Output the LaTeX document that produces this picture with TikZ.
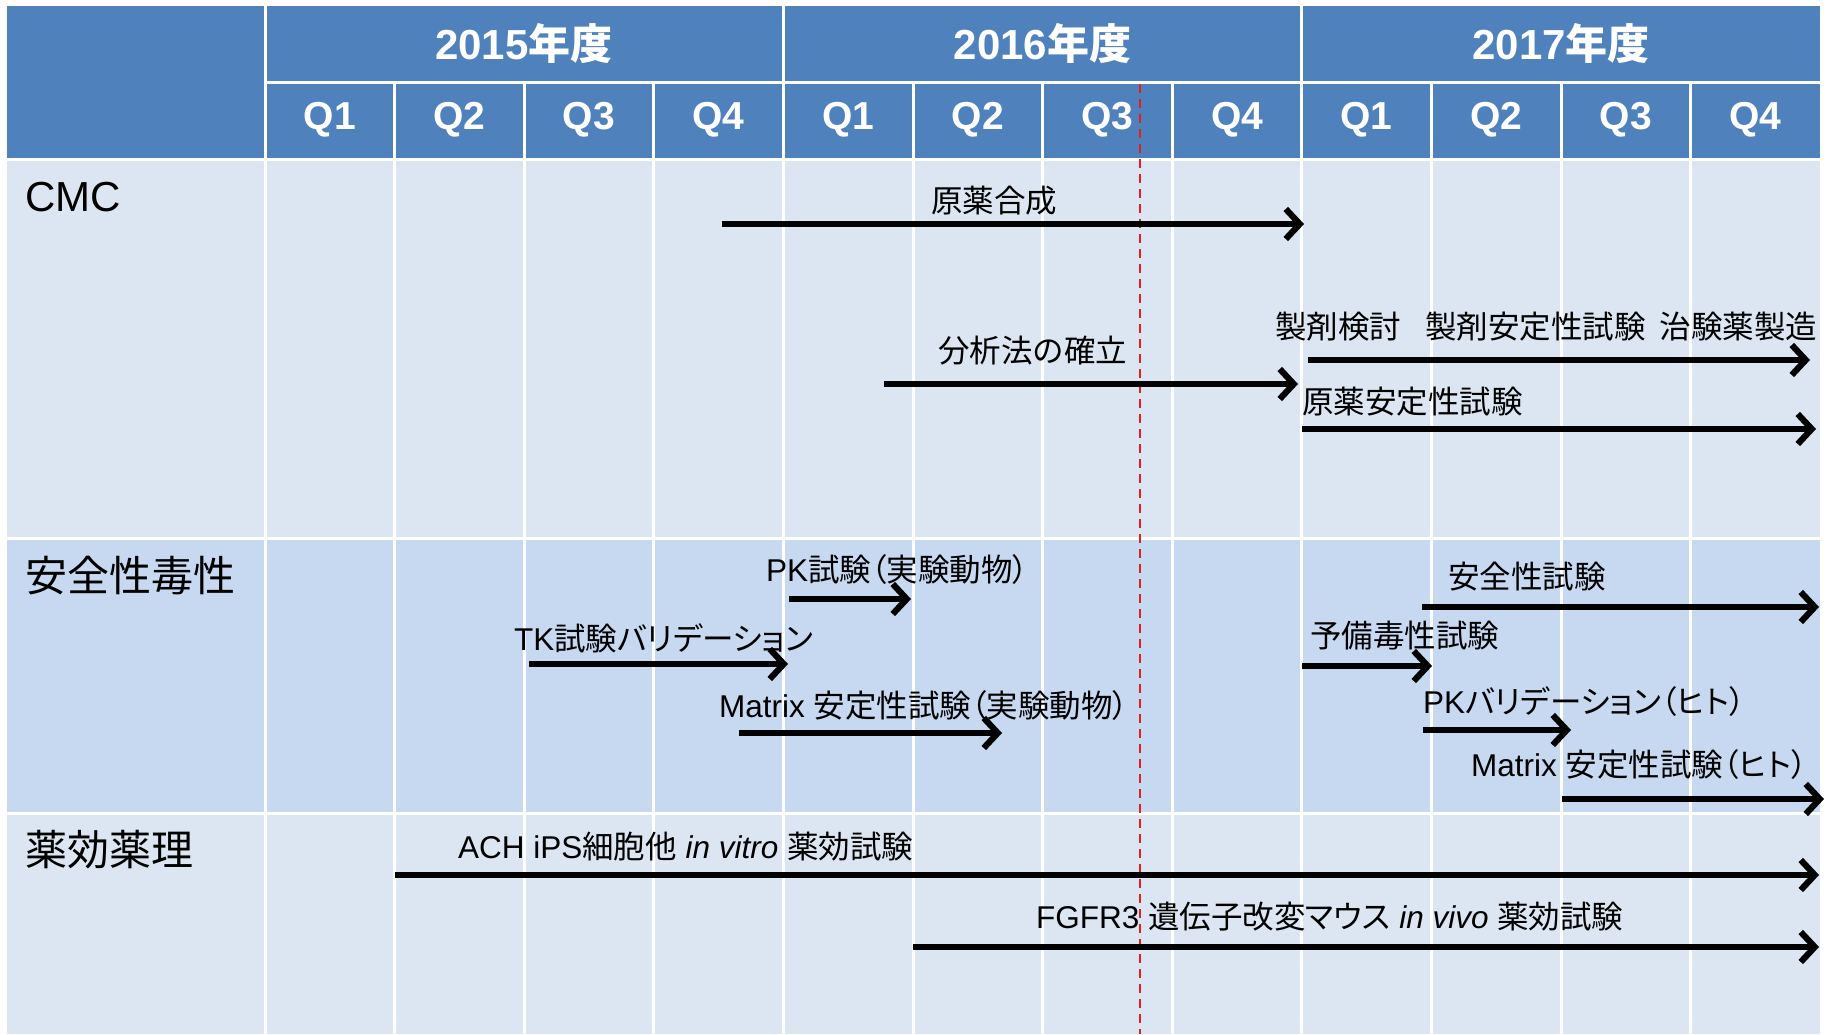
\documentclass[tikz,border=0pt]{standalone}
\usepackage{fontspec}
\setmainfont{Liberation Sans}
\newfontfamily\cjk{Noto Sans CJK JP}
\newfontfamily\cjkp{Noto Sans CJK JP}[RawFeature=+palt]
\usetikzlibrary{arrows.meta}
\definecolor{hdr}{HTML}{4F81BD}
\definecolor{rowA}{HTML}{DCE6F2}
\definecolor{rowB}{HTML}{C6D9F1}
\definecolor{cutred}{HTML}{E02020}
\tikzset{
  grid/.style={white, line width=3pt},
  yearlbl/.style={text=white, font=\fontsize{42}{48}\selectfont\bfseries, inner sep=0pt},
  qlbl/.style={text=white, font=\fontsize{39}{46}\selectfont\bfseries, inner sep=0pt},
  rowlbl/.style={anchor=west, inner sep=0pt, font=\fontsize{42}{48}\selectfont},
  lbl/.style={anchor=west, inner sep=0pt, font=\fontsize{31.5}{36}\selectfont},
  arr/.style={line width=6.2pt, -{Straight Barb[length=14pt,width=30pt]}},
  cutline/.style={cutred, line width=2pt, dash pattern=on 9pt off 6pt}
}
\begin{document}
\begin{tikzpicture}[x=1pt,y=-1pt]
\useasboundingbox (0,0) rectangle (1831,1034);
\fill[white] (0,0) rectangle (1831,1034);
% backgrounds
\fill[hdr] (7,6) rectangle (1820,159);
\fill[rowA] (7,159) rectangle (1820,538);
\fill[rowB] (7,538) rectangle (1820,813);
\fill[rowA] (7,813) rectangle (1820,1034);
% grid
\foreach \i in {0,...,11} {
  \pgfmathsetmacro{\xx}{265+\i*129.6}
  \ifnum\i=0 \draw[grid] (\xx,6) -- (\xx,1034);
  \else\ifnum\i=4 \draw[grid] (\xx,6) -- (\xx,1034);
  \else\ifnum\i=8 \draw[grid] (\xx,6) -- (\xx,1034);
  \else \draw[grid] (\xx,82) -- (\xx,1034);
  \fi\fi\fi
}
\draw[grid] (265,82) -- (1820,82);
\draw[grid] (7,159) -- (1820,159);
\draw[grid] (7,538) -- (1820,538);
\draw[grid] (7,813) -- (1820,813);
% header texts
\node[yearlbl] (y15) at (524,44) {2015{\cjk 年度}};
\node[yearlbl] (y16) at (1042.6,44) {2016{\cjk 年度}};
\node[yearlbl] (y17) at (1561,44) {2017{\cjk 年度}};
\foreach \i/\q in {0/Q1,1/Q2,2/Q3,3/Q4,4/Q1,5/Q2,6/Q3,7/Q4,8/Q1,9/Q2,10/Q3,11/Q4} {
  \node[qlbl] (q\i) at ({265+64.8+\i*129.6},120) {\q};
}
% cut line
\coordinate (cutT) at (1140,84);
\coordinate (cutB) at (1140,1034);
\draw[cutline] (cutT) -- (cutB);
% row labels
\node[rowlbl] (rCMC) at (25,197) {CMC};
\node[rowlbl] (rSafe) at (25,576) {\cjk 安全性毒性};
\node[rowlbl] (rPharm) at (25,850) {\cjk 薬効薬理};
% CMC
\node[lbl] (l1) at (931,201) {\cjk 原薬合成};
\coordinate (a1s) at (722,224); \coordinate (a1e) at (1304,224);
\draw[arr] (a1s) -- (a1e);
\node[lbl] (l2) at (938,351) {\cjk 分析法の確立};
\coordinate (a2s) at (884,384); \coordinate (a2e) at (1298,384);
\draw[arr] (a2s) -- (a2e);
\node[lbl] (l3) at (1275,327) {\cjk 製剤検討\hspace{24pt}製剤安定性試験\hspace{14pt}治験薬製造};
\coordinate (a3s) at (1308,360); \coordinate (a3e) at (1810,360);
\draw[arr] (a3s) -- (a3e);
\node[lbl] (l4) at (1302,402) {\cjk 原薬安定性試験};
\coordinate (a4s) at (1302,429); \coordinate (a4e) at (1816,429);
\draw[arr] (a4s) -- (a4e);
% Safety
\node[lbl] (l5) at (766,570) {PK{\cjkp 試験（実験動物）}};
\coordinate (a5s) at (789,599); \coordinate (a5e) at (911,599);
\draw[arr] (a5s) -- (a5e);
\node[lbl] (l6) at (514,638) {TK{\cjkp 試験バリデーション}};
\coordinate (a6s) at (529,664); \coordinate (a6e) at (788,664);
\draw[arr] (a6s) -- (a6e);
\node[lbl] (l7) at (719,706) {Matrix {\cjkp 安定性試験（実験動物）}};
\coordinate (a7s) at (739,733); \coordinate (a7e) at (1002,733);
\draw[arr] (a7s) -- (a7e);
\node[lbl] (l8) at (1448,577) {\cjk 安全性試験};
\coordinate (a8s) at (1422,607); \coordinate (a8e) at (1819,607);
\draw[arr] (a8s) -- (a8e);
\node[lbl] (l9) at (1310,636) {\cjk 予備毒性試験};
\coordinate (a9s) at (1302,666); \coordinate (a9e) at (1432,666);
\draw[arr] (a9s) -- (a9e);
\node[lbl] (l10) at (1423,702) {PK{\cjkp バリデーション（ヒト）}};
\coordinate (a10s) at (1423,730); \coordinate (a10e) at (1571,730);
\draw[arr] (a10s) -- (a10e);
\node[lbl] (l11) at (1471,765) {Matrix {\cjkp 安定性試験（ヒト）}};
\coordinate (a11s) at (1562,799); \coordinate (a11e) at (1824,799);
\draw[arr] (a11s) -- (a11e);
% Pharmacology
\node[lbl] (l12) at (458,847) {ACH iPS{\cjk 細胞他} \textit{in vitro} {\cjk 薬効試験}};
\coordinate (a12s) at (395,875); \coordinate (a12e) at (1819,875);
\draw[arr] (a12s) -- (a12e);
\node[lbl] (l13) at (1036,917) {FGFR3 {\cjkp 遺伝子改変マウス} \textit{in vivo} {\cjk 薬効試験}};
\coordinate (a13s) at (913,947); \coordinate (a13e) at (1819,947);
\draw[arr] (a13s) -- (a13e);
\end{tikzpicture}
\end{document}
